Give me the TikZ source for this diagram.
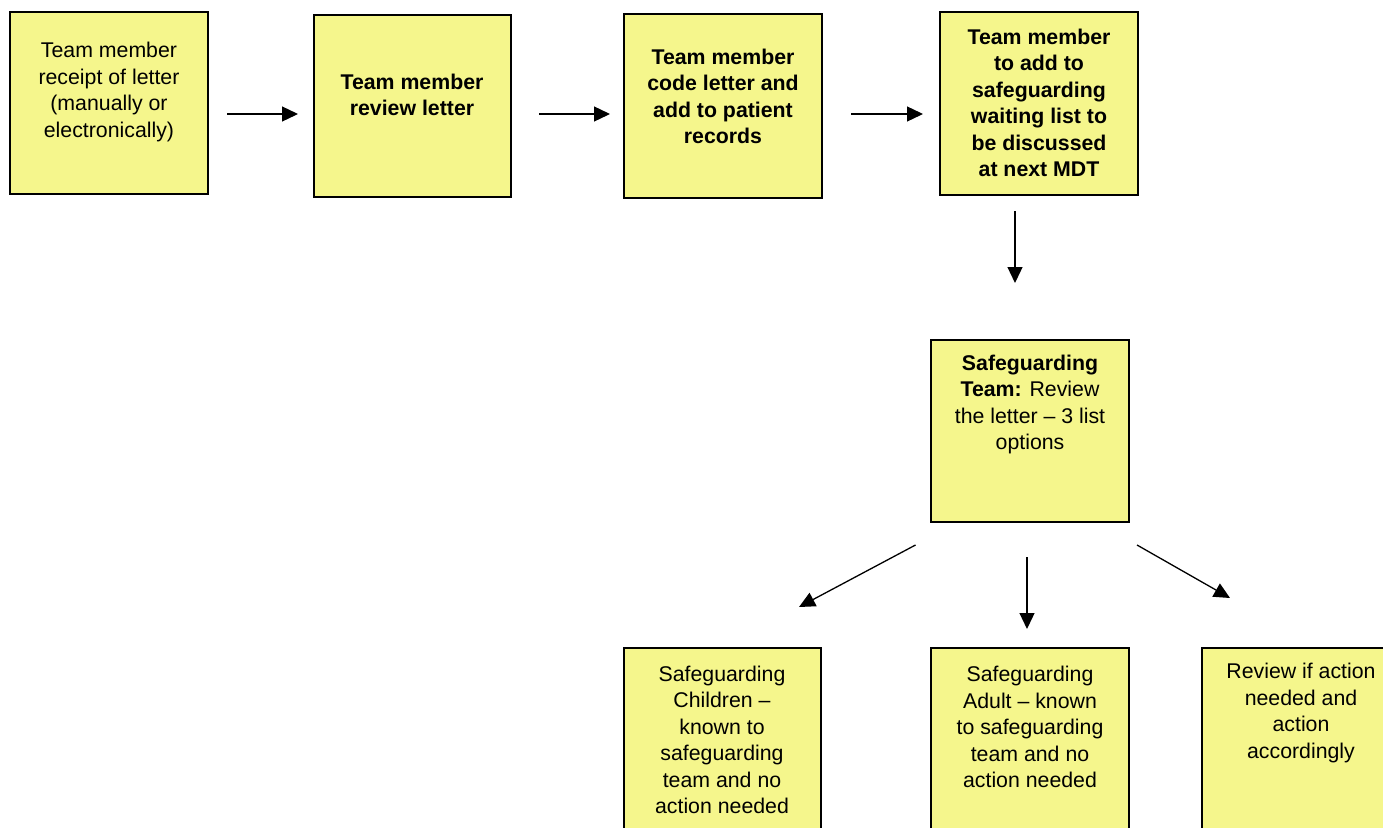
\documentclass[tikz,border=0pt]{standalone}
\usepackage{fontspec}
\setmainfont{Liberation Sans}
\usetikzlibrary{arrows.meta}
\definecolor{notefill}{HTML}{F5F68C}
\tikzset{
  box/.style={draw=black, line width=2.2pt, fill=notefill, rectangle, inner sep=0pt},
  txt/.style={align=center, inner sep=0pt, font=\fontsize{21.3}{26.5}\selectfont},
  boldtxt/.style={txt, font=\fontsize{21.3}{26.5}\selectfont\bfseries},
  flow/.style={line width=1.3pt, -{Triangle[length=16pt,width=15pt]}}
}
\begin{document}
\begin{tikzpicture}[x=1pt, y=-1pt]
\useasboundingbox (0,0) rectangle (1383,827);
\clip (0,0) rectangle (1383,827);
\fill[white] (0,0) rectangle (1383,827);

% note boxes
\node[box, minimum width=198pt, minimum height=182pt] (b1) at (109,103) {};
\node[box, minimum width=197pt, minimum height=182pt] (b2) at (412.5,106) {};
\node[box, minimum width=198pt, minimum height=184pt] (b3) at (723,106) {};
\node[box, minimum width=198pt, minimum height=183pt] (b4) at (1039,103.5) {};
\node[box, minimum width=198pt, minimum height=182pt] (b5) at (1030,431) {};
\node[box, minimum width=197pt, minimum height=183pt] (b6) at (722.5,739.5) {};
\node[box, minimum width=198pt, minimum height=183pt] (b7) at (1030,739.5) {};
\node[box, minimum width=198pt, minimum height=183pt] (b8) at (1301,739.5) {};

% box texts
\node[txt] (t1) at (109,92) {Team member\\receipt of letter\\(manually or\\electronically)};
\node[boldtxt] (t2) at (412,95) {Team member\\review letter};
\node[boldtxt] (t3) at (723,96.5) {Team member\\code letter and\\add to patient\\records};
\node[boldtxt] (t4) at (1039,103) {Team member\\to add to\\safeguarding\\waiting list to\\be discussed\\at next MDT};
\node[txt] (t5) at (1030,404.5) {\textbf{Safeguarding}\\\textbf{Team:} Review\\the letter -- 3 list\\options};
\node[txt] (t6) at (722,740) {Safeguarding\\Children --\\known to\\safeguarding\\team and no\\action needed};
\node[txt] (t7) at (1030,727) {Safeguarding\\Adult -- known\\to safeguarding\\team and no\\action needed};
\node[txt] (t8) at (1301,713) {Review if action\\needed and\\action\\accordingly};

% arrow end points
\coordinate (a1s) at (227,114); \coordinate (a1e) at (298,114);
\coordinate (a2s) at (539,114); \coordinate (a2e) at (610,114);
\coordinate (a3s) at (851,114); \coordinate (a3e) at (923,114);
\coordinate (a4s) at (1015,211); \coordinate (a4e) at (1015,283);
\coordinate (a5s) at (915.5,545); \coordinate (a5e) at (799,607);
\coordinate (a6s) at (1027,557); \coordinate (a6e) at (1027,629);
\coordinate (a7s) at (1137,545); \coordinate (a7e) at (1230,598);

\draw[flow] (a1s) -- (a1e);
\draw[flow] (a2s) -- (a2e);
\draw[flow] (a3s) -- (a3e);
\draw[flow] (a4s) -- (a4e);
\draw[flow] (a5s) -- (a5e);
\draw[flow] (a6s) -- (a6e);
\draw[flow] (a7s) -- (a7e);
\end{tikzpicture}
\end{document}
